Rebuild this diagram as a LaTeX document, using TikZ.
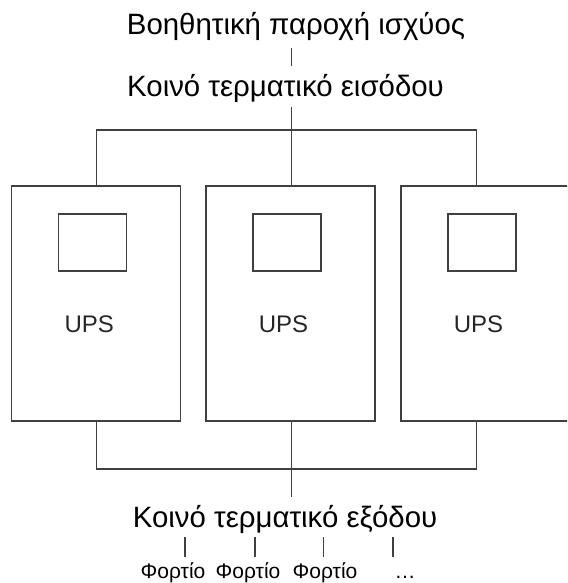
\documentclass[tikz,border=0pt]{standalone}
\usepackage{fontspec}
\setmainfont{Liberation Sans}
\usetikzlibrary{calc}
\begin{document}
\begin{tikzpicture}[x=1pt,y=-1pt,
  ln/.style={draw=black!75, line width=1.4pt},
  upsbox/.style={ln, rectangle, inner sep=0pt, outer sep=0pt, minimum width=169pt, minimum height=235pt, anchor=north west},
  screen/.style={ln, rectangle, inner sep=0pt, outer sep=0pt, minimum width=68pt, minimum height=57pt, anchor=north west},
  upslbl/.style={anchor=base, inner sep=0pt, text=black!85, font=\fontsize{24}{26}\selectfont},
  bigtxt/.style={anchor=base, inner sep=0pt, text=black, font=\fontsize{29.4}{32}\selectfont},
  smtxt/.style={anchor=base, inner sep=0pt, text=black, font=\fontsize{21}{24}\selectfont}]
\path[use as bounding box, clip] (0,0) rectangle (567,583);
\fill[white] (0,0) rectangle (567,583);

% texts
\node[bigtxt] (aux) at (296,35) {Βοηθητική παροχή ισχύος};
\node[bigtxt] (in) at (285.5,97) {Κοινό τερματικό εισόδου};
\node[bigtxt] (out) at (285,527) {Κοινό τερματικό εξόδου};

% UPS boxes
\foreach \i/\x in {1/11.7, 2/206, 3/401} {
  \node[upsbox] (b\i) at (\x,186) {};
  \node[screen] (s\i) at ($(b\i.north west)+(47,28)$) {};
  \node[upslbl] (u\i) at ($(b\i.north west)+(77.5,146)$) {UPS};
}

% input bus
\coordinate (a1) at (291.7,48);
\coordinate (a2) at (291.7,66);
\draw[ln] (a1) -- (a2);
\coordinate (it) at (291.7,107);
\coordinate (jt1) at (96.7,130);
\coordinate (jt2) at (291.7,130);
\coordinate (jt3) at (476.7,130);
\draw[ln] (it) -- (jt2 |- b2.north);
\draw[ln] (jt1 |- b1.north) -- (jt1) -- (jt3) -- (jt3 |- b3.north);

% output bus
\coordinate (jb1) at (96.7,469);
\coordinate (jb2) at (291.7,469);
\coordinate (jb3) at (476.7,469);
\coordinate (ob) at (291.7,497);
\draw[ln] (jb1 |- b1.south) -- (jb1) -- (jb3) -- (jb3 |- b3.south);
\draw[ln] (jb2 |- b2.south) -- (ob);

% loads
\foreach \i/\x/\lx/\t in {1/185/173/Φορτίο, 2/255/248/Φορτίο, 3/323.3/325/Φορτίο, 4/393/405/…} {
  \coordinate (lt\i) at (\x,537);
  \coordinate (lb\i) at (\x,557);
  \draw[ln] (lt\i) -- (lb\i);
  \node[smtxt] (ld\i) at (\lx,578) {\t};
}
\end{tikzpicture}
\end{document}
